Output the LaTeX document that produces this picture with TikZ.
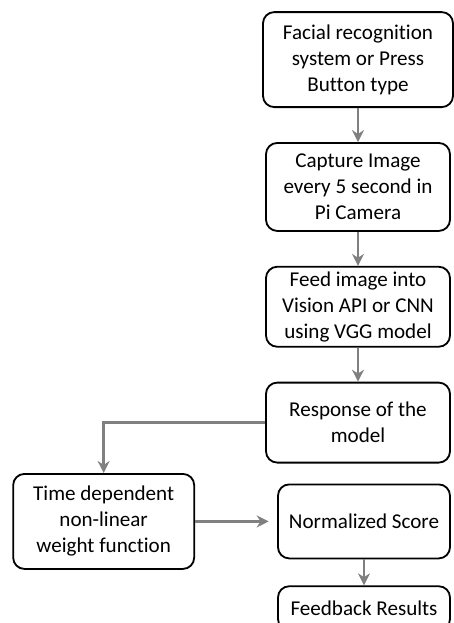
\documentclass[tikz,border=0pt]{standalone}
\usepackage{fontspec}
\setmainfont[Ligatures=NoCommon]{Carlito}
\usetikzlibrary{arrows.meta,positioning}
\definecolor{flowgray}{RGB}{128,128,128}
\tikzset{
  fblock/.style={
    rectangle, draw=black, line width=1.3pt, rounded corners=8pt,
    align=center, minimum width=4.6cm, minimum height=2cm, inner sep=2pt,
    font=\fontsize{15}{18.5}\selectfont
  },
  farrow/.style={draw=flowgray, line width=1.8pt, -{Stealth[length=3mm,width=3mm]}}
}

\begin{document}
\begin{tikzpicture}[node distance=0.85cm]
    \useasboundingbox (0,0) rectangle (11.35,-15.575);
    \clip (0,0) rectangle (11.35,-15.575);
    % Nodos
    \node[fblock, minimum width=4.75cm, minimum height=2.375cm] (face) at (8.95,-1.49)
                                                   {Facial recognition\\system or Press\\Button type};
    \node[fblock, below=of face, minimum height=2.2cm] (capture) {Capture Image\\every 5 second in\\Pi Camera};
    \node[fblock, below=of capture]                (feed)     {Feed image into\\Vision API or CNN\\using VGG model};
    \node[fblock, below=0.85cm of feed]            (response) {Response of the\\model};
    \node[fblock, below=0.5cm of response, xshift=0.15cm, minimum width=4.3cm, minimum height=1.85cm]
                                                   (norm)     {Normalized Score};
    \node[fblock, below=0.65cm of norm, minimum width=4.3cm, minimum height=1.1cm]
                                                   (result)   {Feedback Results};
    \node[fblock, left=2.05cm of norm, minimum width=4.525cm, minimum height=2.375cm]
                                                   (weight)   {Time dependent\\non-linear\\weight function};
    % Flechas
    \draw[farrow] (face) -- (capture);
    \draw[farrow] (capture) -- (feed);
    \draw[farrow] (feed) -- (response);
    \draw[farrow] (response.west) -| (weight.north);
    \draw[farrow, shorten >=6pt] (weight) -- (norm);
    \draw[farrow] (norm) -- (result);
\end{tikzpicture}
\end{document}
